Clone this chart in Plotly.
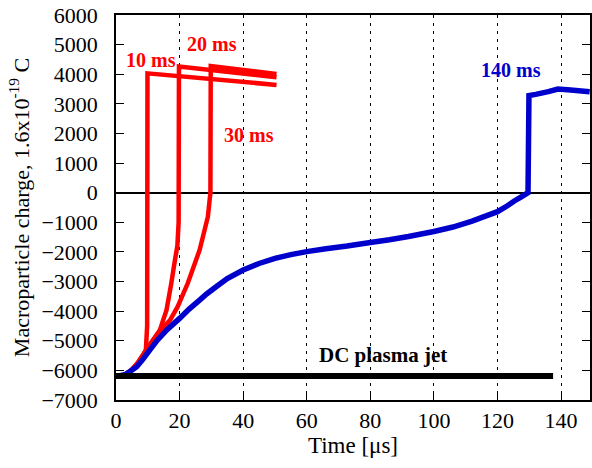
import plotly.graph_objects as go

# ---- data ----
t_blue = [0, 2.8, 4.5, 6.5, 8.5, 10.6, 13, 15.9, 18, 20, 23, 26.3, 28.5, 31.5, 35, 40, 45, 50,
          55, 60, 66, 72.7, 80, 86, 92, 100, 106, 112, 116, 120, 123, 125.3, 127.5, 129.6,
          129.9, 132, 136, 139, 143, 149]
q_blue = [-6200, -6150, -6030, -5880, -5620, -5314, -4980, -4640, -4440, -4245, -3930, -3625,
          -3420, -3176, -2900, -2611, -2390, -2216, -2090, -1990, -1890, -1800, -1680, -1590,
          -1480, -1310, -1160, -960, -800, -640, -450, -280, -140, 0, 3280, 3320, 3410, 3500,
          3470, 3410]

t_red10 = [0, 2.8, 5, 7, 8.5, 9.4, 9.8, 9.9, 50.5]
q_red10 = [-6200, -6150, -5980, -5750, -5550, -5300, -4500, 4030, 3640]

t_red20 = [0, 2.8, 5, 7, 9, 11.5, 13.8, 15.9, 17.4, 18.5, 19.3, 19.7, 19.8, 50.5]
q_red20 = [-6200, -6150, -5980, -5720, -5400, -5000, -4640, -3960, -3050, -2300, -1800,
           -1000, 4260, 3900]

t_red30 = [0, 2.8, 5, 7, 9, 11.5, 14, 17, 19.4, 22.6, 26.3, 28.9, 29.5, 29.7, 29.8, 50.5]
q_red30 = [-6200, -6150, -5980, -5720, -5400, -5000, -4650, -4300, -3850, -3050, -1936,
           -810, -200, 0, 4280, 4010]

t_dc = [0, 137.5]
q_dc = [-6190, -6190]

x_ticks = [0, 20, 40, 60, 80, 100, 120, 140]
y_ticks = [6000, 5000, 4000, 3000, 2000, 1000, 0, -1000, -2000, -3000, -4000, -5000, -6000, -7000]

labels = ["10 ms", "20 ms", "30 ms", "140 ms", "DC plasma jet"]
label_x = [11, 30.1, 41.7, 124.4, 84]
label_y = [4480, 5020, 1950, 4145, -5490]
label_col = ["#ff0000", "#ff0000", "#ff0000", "#0000cc", "#000000"]
label_size = [20, 20, 20, 20, 21]

FONT = "Liberation Serif, Times New Roman, serif"

fig = go.Figure()
for tx, qy in [(t_red10, q_red10), (t_red20, q_red20), (t_red30, q_red30)]:
    fig.add_trace(go.Scatter(x=tx, y=qy, mode="lines",
                             line=dict(color="#ff0000", width=4.5, simplify=False),
                             showlegend=False))
fig.add_trace(go.Scatter(x=t_blue, y=q_blue, mode="lines",
                         line=dict(color="#0000cc", width=5.5, simplify=False),
                         showlegend=False))
fig.add_trace(go.Scatter(x=t_dc, y=q_dc, mode="lines",
                         line=dict(color="#000000", width=6), showlegend=False))

for txt, ax, ay, c, s in zip(labels, label_x, label_y, label_col, label_size):
    fig.add_annotation(x=ax, y=ay, text="<b>" + txt + "</b>", showarrow=False,
                       font=dict(family=FONT, size=s, color=c))

fig.update_layout(
    width=592, height=468,
    margin=dict(l=116, r=0, t=15, b=68),
    paper_bgcolor="white", plot_bgcolor="white",
    font=dict(family=FONT, size=22, color="black"),
    xaxis=dict(range=[0, 149.1], tickvals=x_ticks, ticks="inside", ticklen=8,
               tickcolor="black", showline=True, linecolor="black", linewidth=1.5,
               mirror=True, showgrid=True, gridcolor="black", gridwidth=1,
               griddash="3px,5px", zeroline=False,
               title=dict(text="Time [μs]", font=dict(size=23), standoff=4),
               tickfont=dict(size=22)),
    yaxis=dict(range=[-7000, 6000], tickvals=y_ticks, ticks="inside", ticklen=8,
               tickcolor="black", showline=True, linecolor="black", linewidth=1.5,
               mirror="ticks", showgrid=False, zeroline=True, zerolinecolor="black",
               zerolinewidth=2, ticklabelstandoff=12,
               title=dict(text="Macroparticle charge, 1.6x10<sup>-19</sup> C",
                          font=dict(size=22), standoff=6),
               tickfont=dict(size=22)),
)

fig.write_html("out.html")
